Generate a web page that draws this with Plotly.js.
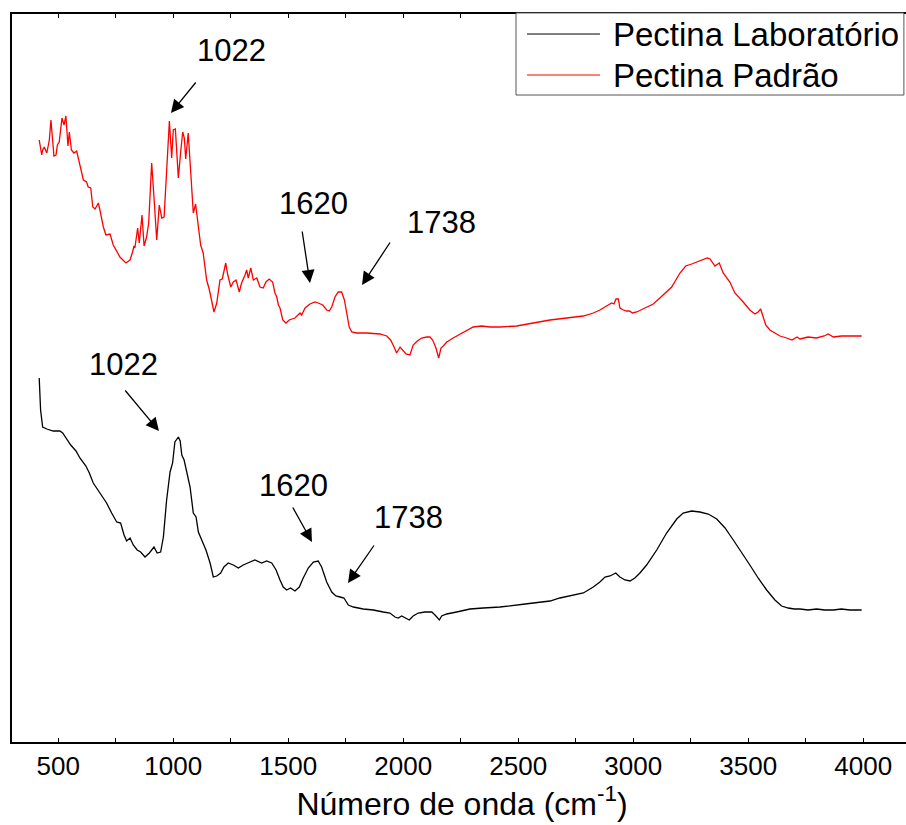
<!DOCTYPE html>
<html>
<head>
<meta charset="utf-8">
<script src="https://cdn.plot.ly/plotly-3.0.1.min.js"></script>
<style>
  html, body { margin: 0; padding: 0; background: #fff; overflow: hidden; }
  #chart { width: 912px; height: 825px; }
</style>
</head>
<body>
<div id="chart"></div>
<script>
// FTIR spectra of two pectin samples (arbitrary transmittance units, vertically offset)

// Pectina Padrão (standard pectin)
const padraoWavenumber = [
  417, 428, 432, 439, 450, 461, 468, 481, 490, 496,
  504, 516, 525, 533, 542, 548, 557, 568, 580, 589,
  599, 609, 623, 630, 641, 650, 660, 674, 681, 696,
  707, 725, 739, 754, 768, 794, 812, 823, 829, 833,
  845, 852, 864, 873, 884, 893, 906, 916, 928, 939,
  950, 960, 971, 983, 993, 1000, 1009, 1022, 1032, 1041,
  1048, 1054, 1065, 1076, 1087, 1097, 1109, 1119, 1130, 1145,
  1157, 1167, 1177, 1189, 1203, 1213, 1228, 1237, 1250, 1261,
  1273, 1287, 1297, 1312, 1319, 1326, 1337, 1348, 1363, 1377,
  1391, 1403, 1417, 1432, 1442, 1450, 1457, 1464, 1476, 1490,
  1504, 1529, 1551, 1558, 1573, 1594, 1616, 1630, 1650, 1667,
  1678, 1689, 1703, 1717, 1732, 1744, 1754, 1765, 1776, 1797,
  1841, 1899, 1928, 1945, 1960, 1971, 1986, 1997, 2012, 2029,
  2043, 2061, 2080, 2102, 2116, 2128, 2142, 2154, 2164, 2174,
  2189, 2217, 2247, 2276, 2304, 2341, 2377, 2420, 2493, 2565,
  2638, 2710, 2783, 2826, 2855, 2884, 2906, 2916, 2925, 2935,
  2942, 2957, 2971, 2983, 2997, 3015, 3043, 3087, 3130, 3167,
  3203, 3228, 3254, 3290, 3322, 3334, 3355, 3374, 3391, 3420,
  3442, 3478, 3507, 3529, 3543, 3554, 3565, 3576, 3594, 3616,
  3638, 3667, 3690, 3712, 3725, 3760, 3797, 3830, 3848, 3870,
  3905, 3942, 3993
];
const padraoSignal = [
  60.2, 58.7, 59.2, 59.5, 58.9, 60.2, 62.2, 58.6, 58.7, 59.7,
  60.0, 62.4, 61.7, 62.6, 59.6, 61.0, 59.2, 58.9, 59.1, 58.2,
  57.0, 56.2, 56.0, 55.5, 55.4, 53.5, 53.3, 53.9, 53.2, 51.5,
  50.7, 50.8, 49.7, 49.1, 48.5, 47.9, 48.2, 49.0, 49.6, 49.4,
  51.4, 49.9, 52.7, 49.6, 50.5, 51.9, 57.9, 54.5, 50.2, 53.7,
  52.4, 52.5, 56.9, 62.1, 58.4, 61.2, 61.3, 56.4, 59.0, 61.0,
  60.4, 58.3, 60.9, 56.5, 52.9, 53.8, 51.7, 49.7, 48.9, 46.2,
  45.2, 44.0, 43.0, 43.9, 46.2, 46.3, 47.9, 46.7, 45.5, 46.0,
  46.2, 45.0, 45.9, 46.7, 47.2, 46.4, 47.4, 46.2, 46.4, 45.5,
  45.4, 46.0, 46.3, 46.0, 44.9, 44.5, 43.7, 43.4, 42.2, 41.9,
  42.2, 42.4, 42.9, 42.7, 43.4, 43.8, 44.0, 43.9, 43.7, 43.2,
  43.1, 43.5, 44.5, 45.0, 45.0, 44.2, 42.9, 41.5, 41.0, 40.9,
  40.9, 40.8, 40.6, 40.2, 39.5, 38.9, 39.5, 39.2, 38.8, 38.7,
  39.7, 40.1, 40.4, 40.5, 40.5, 40.2, 39.4, 38.4, 39.4, 39.6,
  40.0, 40.4, 40.8, 41.1, 41.5, 41.6, 41.5, 41.5, 41.6, 41.9,
  42.2, 42.4, 42.6, 42.9, 43.2, 43.6, 43.9, 43.8, 44.3, 44.3,
  43.4, 43.2, 43.1, 43.1, 42.9, 43.0, 43.3, 43.8, 44.7, 45.5,
  46.9, 47.6, 47.8, 48.1, 48.4, 48.3, 47.6, 47.9, 46.9, 46.0,
  44.9, 44.0, 43.2, 42.8, 43.0, 43.3, 42.5, 41.7, 41.2, 40.9,
  40.6, 40.4, 40.2, 40.5, 40.3, 40.5, 40.4, 40.6, 40.8, 40.5,
  40.6, 40.6, 40.6
];

// Pectina Laboratório (lab-extracted pectin)
const laboratorioWavenumber = [
  417, 423, 432, 450, 478, 507, 519, 537, 554, 577,
  594, 620, 635, 652, 681, 710, 732, 754, 771, 786,
  797, 812, 826, 843, 858, 877, 896, 916, 930, 945,
  957, 971, 986, 997, 1007, 1022, 1030, 1037, 1047, 1058,
  1073, 1087, 1099, 1109, 1124, 1142, 1160, 1174, 1189, 1206,
  1220, 1239, 1261, 1283, 1304, 1326, 1355, 1384, 1406, 1428,
  1447, 1464, 1478, 1493, 1510, 1529, 1548, 1565, 1587, 1609,
  1630, 1645, 1667, 1689, 1707, 1725, 1742, 1761, 1783, 1826,
  1870, 1913, 1942, 1964, 1978, 1993, 2012, 2026, 2043, 2065,
  2094, 2124, 2138, 2148, 2157, 2167, 2189, 2232, 2290, 2348,
  2420, 2530, 2638, 2681, 2725, 2783, 2826, 2855, 2877, 2899,
  2924, 2942, 2964, 2986, 3007, 3029, 3058, 3102, 3145, 3189,
  3217, 3254, 3290, 3326, 3363, 3399, 3435, 3471, 3507, 3543,
  3580, 3616, 3645, 3674, 3700, 3725, 3760, 3797, 3833, 3870,
  3905, 3942, 3993
];
const laboratorioSignal = [
  36.4, 33.2, 31.5, 31.3, 31.1, 31.1, 30.9, 30.3, 29.7, 29.1,
  28.4, 27.6, 26.9, 25.9, 24.9, 23.9, 22.9, 22.0, 21.9, 20.7,
  20.1, 20.4, 19.7, 19.2, 19.0, 18.5, 18.9, 19.5, 18.9, 19.0,
  20.5, 24.2, 27.0, 27.9, 30.0, 30.5, 30.1, 28.7, 28.2, 26.9,
  25.5, 22.9, 22.5, 21.0, 20.2, 19.2, 17.9, 16.5, 16.6, 16.9,
  17.5, 17.9, 17.7, 17.4, 17.7, 17.9, 18.2, 17.9, 18.1, 17.9,
  17.2, 16.2, 15.5, 15.2, 15.4, 15.1, 15.5, 16.4, 17.4, 18.0,
  18.1, 17.5, 16.0, 15.0, 14.6, 14.5, 14.4, 13.7, 13.5, 13.3,
  13.2, 13.0, 12.9, 12.5, 12.4, 12.6, 12.4, 12.2, 12.6, 12.9,
  13.0, 13.0, 12.7, 12.4, 12.2, 12.6, 12.8, 13.0, 13.3, 13.4,
  13.5, 13.8, 14.1, 14.4, 14.6, 14.9, 15.5, 16.0, 16.5, 16.6,
  16.9, 16.5, 16.2, 16.1, 16.4, 16.9, 17.7, 19.2, 20.9, 22.3,
  22.9, 23.1, 23.0, 22.8, 22.3, 21.4, 20.2, 19.0, 17.7, 16.4,
  15.2, 14.2, 13.6, 13.4, 13.3, 13.3, 13.2, 13.3, 13.2, 13.2,
  13.3, 13.2, 13.2
];

// Band assignments marked on both spectra
const bandLabels = [1022, 1620, 1738];
const tickValues = [500, 1000, 1500, 2000, 2500, 3000, 3500, 4000];
const seriesNames = ['Pectina Laboratório', 'Pectina Padrão'];
const seriesColors = ['#000000', '#ff0000'];

const FONT = 'Liberation Sans, Arial, Helvetica, sans-serif';

const traces = [
  {
    x: laboratorioWavenumber, y: laboratorioSignal, name: seriesNames[0],
    type: 'scatter', mode: 'lines', line: { color: seriesColors[0], width: 1.3 },
    showlegend: false
  },
  {
    x: padraoWavenumber, y: padraoSignal, name: seriesNames[1],
    type: 'scatter', mode: 'lines', line: { color: seriesColors[1], width: 1.3 },
    showlegend: false
  }
];

// Arrow / label placement for each band on each spectrum (pixel offsets)
const markerStyle = [
  // upper (red) spectrum
  { band: 0, headY: 62.9, headShift: -7.4, ax: 26, ay: -32, textY: 69.2, textShift: 53.6 },
  { band: 1, headY: 45.9, headShift: -5.9, ax: -8, ay: -53, textY: 53.9, textShift: -1.9 },
  { band: 2, headY: 45.7, headShift: 19.0, ax: 29, ay: -44, textY: 52.0, textShift: 98 },
  // lower (black) spectrum
  { band: 0, headY: 31.1, headShift: -19.4, ax: -35, ay: -42, textY: 37.8, textShift: -54.4 },
  { band: 1, headY: 20.0, headShift: -3.9, ax: -20, ay: -36, textY: 25.7, textShift: -21.9 },
  { band: 2, headY: 15.9, headShift: 5, ax: 27, ay: -39, textY: 22.5, textShift: 65 }
];

const annotations = [];
markerStyle.forEach(m => {
  const v = bandLabels[m.band];
  annotations.push({
    x: v, y: m.headY, xref: 'x', yref: 'y', xshift: m.headShift,
    text: '', showarrow: true, ax: m.ax, ay: m.ay,
    arrowhead: 2, arrowsize: 2, arrowwidth: 1.3, arrowcolor: '#000',
    standoff: 0, startstandoff: 0
  });
  annotations.push({
    x: v, y: m.textY, xref: 'x', yref: 'y', xshift: m.textShift,
    text: String(v), showarrow: false, xanchor: 'center', yanchor: 'middle',
    font: { family: FONT, size: 31, color: '#000' }
  });
});

// Legend box drawn in paper coordinates (plot area is 900 px wide, 728 px tall)
const legendBox = { x0: 0.56, x1: 0.991, y0: 0.8887, y1: 1.0014 };
const legendRows = [0.9725, 0.9162];
const legendLine = { x0: 0.5722, x1: 0.6533 };
const legendTextX = 0.6655;

const shapes = [
  {
    type: 'rect', xref: 'paper', yref: 'paper',
    x0: legendBox.x0, x1: legendBox.x1, y0: legendBox.y0, y1: legendBox.y1,
    line: { color: '#555', width: 1 }, fillcolor: '#fff', layer: 'above'
  }
];
seriesNames.forEach((name, i) => {
  shapes.push({
    type: 'line', xref: 'paper', yref: 'paper',
    x0: legendLine.x0, x1: legendLine.x1, y0: legendRows[i], y1: legendRows[i],
    line: { color: seriesColors[i], width: 1 }, layer: 'above'
  });
  annotations.push({
    x: legendTextX, y: legendRows[i], xref: 'paper', yref: 'paper',
    text: name, showarrow: false, xanchor: 'left', yanchor: 'middle',
    font: { family: FONT, size: 33, color: '#000' }
  });
});

const layout = {
  width: 912, height: 825,
  margin: { l: 12, r: 0, t: 14, b: 83 },
  paper_bgcolor: '#fff', plot_bgcolor: '#fff',
  font: { family: FONT, color: '#000' },
  showlegend: false,
  xaxis: {
    range: [298.7, 4212],
    showline: true, linewidth: 2, linecolor: '#000', mirror: 'ticks',
    ticks: 'inside', ticklen: 4, tickwidth: 1, tickcolor: '#000',
    tickmode: 'array', tickvals: tickValues, ticktext: tickValues.map(String),
    minor: { dtick: 250, tick0: 0, ticks: 'inside', ticklen: 4, tickwidth: 1, tickcolor: '#000', showgrid: false },
    showgrid: false, zeroline: false,
    tickfont: { family: FONT, size: 26, color: '#000' },
    title: { text: 'Número de onda (cm<sup>-1</sup>)', font: { family: FONT, size: 32, color: '#000' }, standoff: 6 }
  },
  yaxis: {
    range: [0, 72.8],
    showline: true, linewidth: 2, linecolor: '#000', mirror: false,
    ticks: '', showticklabels: false, showgrid: false, zeroline: false
  },
  shapes: shapes,
  annotations: annotations
};

Plotly.newPlot('chart', traces, layout, { displayModeBar: false, staticPlot: true });
</script>
</body>
</html>
